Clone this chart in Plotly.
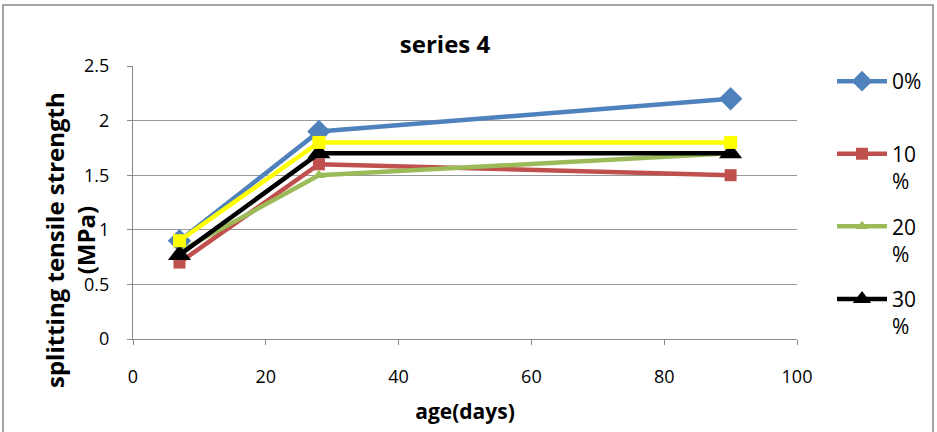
import plotly.graph_objects as go

days = [7, 28, 90]
s0 = [0.9, 1.9, 2.2]
s10 = [0.7, 1.6, 1.5]
s20 = [0.8, 1.5, 1.7]
s30 = [0.77, 1.7, 1.7]
s_extra = [0.9, 1.8, 1.8]

names = ["0%<br> ", "10<br>%", "20<br>%", "30<br>%"]
x_ticks = [0, 20, 40, 60, 80, 100]
y_ticks = [0, 0.5, 1, 1.5, 2, 2.5]
y_tick_text = ["0", "0.5", "1", "1.5", "2", "2.5"]

fig = go.Figure()
fig.add_trace(go.Scatter(x=days, y=s0, name=names[0], mode="lines+markers", legendgroup="a",
                         line=dict(color="#4F81BD", width=4.5),
                         marker=dict(symbol="diamond", size=18, color="#4F81BD")))
fig.add_trace(go.Scatter(x=days, y=s10, name=names[1], mode="lines+markers", legendgroup="b",
                         line=dict(color="#C0504D", width=4.5),
                         marker=dict(symbol="square", size=12, color="#C0504D")))
fig.add_trace(go.Scatter(x=days, y=s20, name=names[2], mode="lines+markers", legendgroup="c",
                         line=dict(color="#9BBB59", width=4.5),
                         marker=dict(symbol="triangle-up", size=11, color="#9BBB59")))
fig.add_trace(go.Scatter(x=days, y=s30, name=names[3], mode="lines+markers", legendgroup="d",
                         line=dict(color="#000000", width=4.5),
                         marker=dict(symbol="triangle-up", size=20, color="#000000")))
fig.add_trace(go.Scatter(x=days, y=s_extra, name="", mode="lines+markers", showlegend=False,
                         line=dict(color="#FFFF00", width=4.5),
                         marker=dict(symbol="square", size=13, color="#FFFF00")))

font = "Open Sans, Noto Sans, sans-serif"
fig.update_layout(
    width=937, height=432,
    margin=dict(l=133, r=140, t=66, b=93, autoexpand=False),
    paper_bgcolor="white", plot_bgcolor="white",
    font=dict(family=font, size=18, color="#000"),
    title=dict(text="<b>series 4</b>", x=445 / 937, xanchor="center", y=1 - 45 / 432, yanchor="middle",
               font=dict(size=24)),
    showlegend=True,
    legend=dict(x=(832 - 133) / 664, xanchor="left", y=1 - 61 / 432, yanchor="top", yref="container",
                valign="top", itemwidth=50, maxheight=1,
                tracegroupgap=15, font=dict(size=21), bgcolor="rgba(0,0,0,0)"),
    xaxis=dict(range=[0, 100], tickvals=x_ticks, showgrid=False, showline=True,
               linecolor="#888", linewidth=1, ticks="outside", tickcolor="#888", ticklen=5,
               zeroline=False, tickfont=dict(size=18), ticklabelstandoff=16,
               title=dict(text="<b>age(days)</b>", font=dict(size=21), standoff=17)),
    yaxis=dict(range=[0, 2.5], tickvals=y_ticks, ticktext=y_tick_text, showgrid=True,
               gridcolor="#999", gridwidth=1, showline=True, linecolor="#888", linewidth=1,
               ticks="outside", tickcolor="#888", ticklen=5, zeroline=False,
               tickfont=dict(size=18), ticklabelstandoff=14),
)

fig.add_annotation(text="<b>splitting tensile strength<br>(MPa)</b>", textangle=-90,
                   xref="paper", yref="paper", x=(70 - 133) / 664, y=(339 - 240) / 273,
                   xanchor="center", yanchor="middle", showarrow=False,
                   font=dict(size=24, family=font))

fig.add_shape(type="rect", xref="paper", yref="paper",
              x0=(3 - 133) / 664, x1=(933 - 133) / 664, y0=-0.6, y1=(339 - 5) / 273,
              line=dict(color="#888", width=1.5), fillcolor="rgba(0,0,0,0)", layer="below")

fig.write_html("out.html", config={"displayModeBar": False},
               post_script="document.body.style.margin='0';")
